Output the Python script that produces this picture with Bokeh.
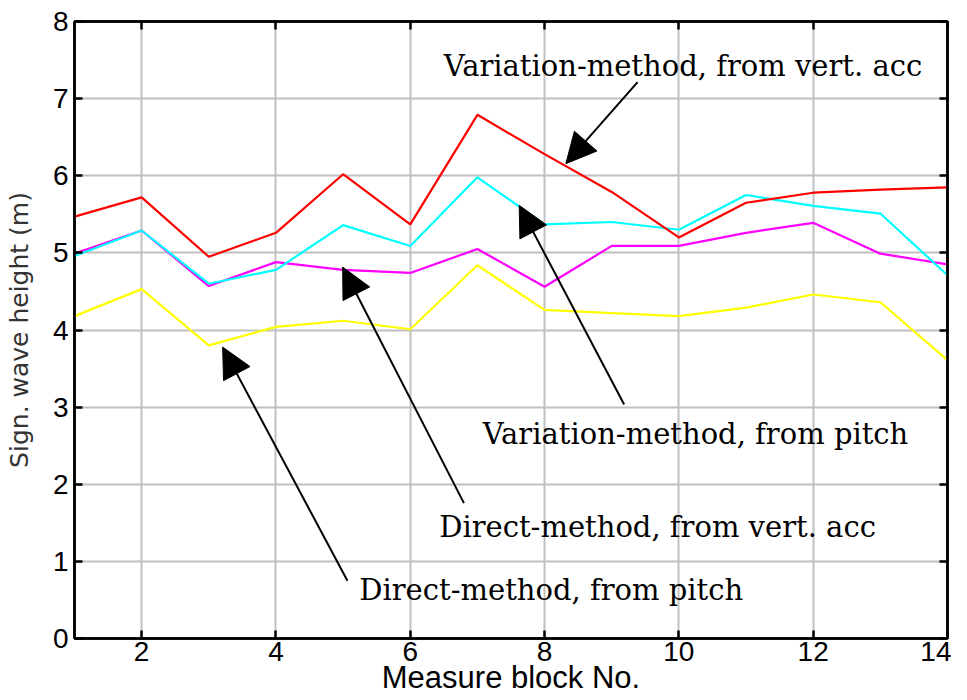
import numpy as np
from bokeh.plotting import figure
from bokeh.models import (ColumnDataSource, LinearAxis, Range1d, FixedTicker,
                          Arrow, NormalHead, Label)
from bokeh.embed import file_html
from bokeh.resources import INLINE

# ---- data ----
blocks = [1, 2, 3, 4, 5, 6, 7, 8, 9, 10, 11, 12, 13, 14]
var_vert_acc = [5.47, 5.72, 4.95, 5.26, 6.02, 5.37, 6.79, 6.28, 5.79, 5.20, 5.65, 5.78, 5.82, 5.85]
var_pitch = [4.96, 5.29, 4.60, 4.78, 5.36, 5.09, 5.98, 5.37, 5.40, 5.30, 5.75, 5.61, 5.51, 4.71]
dir_vert_acc = [4.99, 5.29, 4.57, 4.88, 4.78, 4.74, 5.05, 4.56, 5.09, 5.09, 5.26, 5.39, 4.99, 4.85]
dir_pitch = [4.18, 4.53, 3.80, 4.04, 4.12, 4.01, 4.84, 4.26, 4.22, 4.18, 4.29, 4.46, 4.36, 3.61]

x_ticks = [2, 4, 6, 8, 10, 12, 14]
y_ticks = [0, 1, 2, 3, 4, 5, 6, 7, 8]

# annotations: (text, text_x, text_y, tail_x, tail_y, tip_x, tip_y)
notes = [
    ("Variation-method, from vert. acc", 6.50, 7.42, 9.385, 7.215, 8.317, 6.157),
    ("Variation-method, from pitch", 7.08, 2.65, 9.185, 3.035, 7.622, 5.616),
    ("Direct-method, from vert. acc", 6.43, 1.44, 6.799, 1.755, 4.993, 4.816),
    ("Direct-method, from pitch", 5.24, 0.63, 5.064, 0.75, 3.206, 3.778),
]

p = figure(width=951, height=700, x_range=Range1d(1, 14), y_range=Range1d(0, 8),
           output_backend="svg", toolbar_location=None,
           min_border_left=74, min_border_right=4, min_border_top=21, min_border_bottom=62)

p.background_fill_color = "white"
p.border_fill_color = "white"
p.outline_line_color = "black"
p.outline_line_width = 2.5

for ax in (p.xaxis[0], p.yaxis[0]):
    ax.major_label_text_font = "Liberation Sans"
    ax.major_label_text_font_size = "28px"
    ax.major_label_text_color = "black"
    ax.axis_label_text_font_style = "normal"
    ax.major_tick_in = 8
    ax.major_tick_out = 0
    ax.minor_tick_in = 0
    ax.minor_tick_out = 0
    ax.axis_line_width = 2.5
    ax.major_tick_line_width = 2.5

p.xaxis[0].ticker = FixedTicker(ticks=x_ticks)
p.yaxis[0].ticker = FixedTicker(ticks=y_ticks)
p.xaxis[0].axis_label = "Measure block No."
p.xaxis[0].axis_label_text_font = "Liberation Sans"
p.xaxis[0].axis_label_text_font_size = "31px"
p.xaxis[0].axis_label_text_color = "black"
p.xaxis[0].axis_label_standoff = -4
p.xaxis[0].major_label_standoff = 3
p.yaxis[0].axis_label = "Sign. wave height (m)"
p.yaxis[0].axis_label_text_font = "DejaVu Sans"
p.yaxis[0].axis_label_text_font_size = "25px"
p.yaxis[0].axis_label_text_color = "#333333"
p.yaxis[0].axis_label_standoff = 16
p.yaxis[0].major_label_standoff = 6

top_ax = LinearAxis(ticker=FixedTicker(ticks=x_ticks), major_label_text_font_size="0px",
                    major_tick_in=8, major_tick_out=0, minor_tick_in=0, minor_tick_out=0,
                    axis_line_width=2.5, major_tick_line_width=2.5, major_label_standoff=0)
right_ax = LinearAxis(ticker=FixedTicker(ticks=y_ticks), major_label_text_font_size="0px",
                      major_tick_in=8, major_tick_out=0, minor_tick_in=0, minor_tick_out=0,
                      axis_line_width=2.5, major_tick_line_width=2.5, major_label_standoff=0)
p.add_layout(top_ax, "above")
p.add_layout(right_ax, "right")

p.xgrid.ticker = FixedTicker(ticks=x_ticks)
p.ygrid.ticker = FixedTicker(ticks=y_ticks)
for g in (p.xgrid[0], p.ygrid[0]):
    g.grid_line_color = "#c0c0c0"
    g.grid_line_width = 2

series = [(dir_pitch, "#ffff00"), (dir_vert_acc, "#ff00ff"),
          (var_pitch, "#00ffff"), (var_vert_acc, "#ff0000")]
for vals, col in series:
    src = ColumnDataSource(dict(x=blocks, y=vals))
    p.line("x", "y", source=src, line_color=col, line_width=2.2)

for txt, tx, ty, x0, y0, x1, y1 in notes:
    p.add_layout(Arrow(end=NormalHead(size=30, fill_color="black", line_color="black"),
                       x_start=x0, y_start=y0, x_end=x1, y_end=y1,
                       line_color="black", line_width=2))
    p.add_layout(Label(x=tx, y=ty, text=txt, text_font="DejaVu Serif",
                       text_font_size="29px", text_color="black",
                       text_baseline="alphabetic", text_align="left"))

open("out.html", "w").write(file_html(p, INLINE))
